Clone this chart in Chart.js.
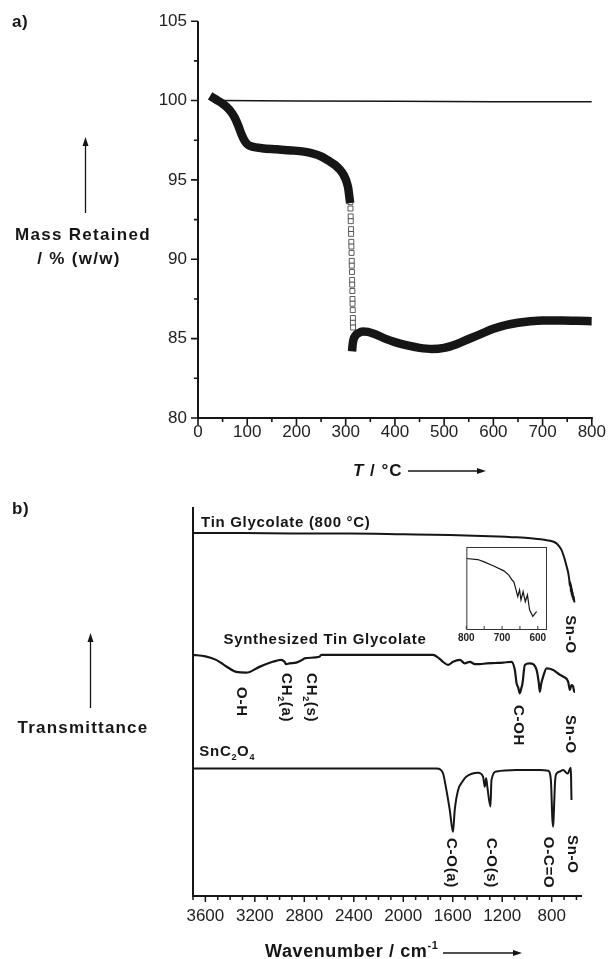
<!DOCTYPE html>
<html>
<head>
<meta charset="utf-8">
<script src="https://cdn.jsdelivr.net/npm/chart.js@4.4.1/dist/chart.umd.min.js"></script>
<style>
  html, body { margin: 0; padding: 0; background: #fff; }
  body { width: 610px; height: 959px; position: relative; overflow: hidden; }
  canvas { position: absolute; }
  #tga { left: 0; top: 0; }
  #ftir { left: 0; top: 490px; }
  #inset { left: 455px; top: 540px; }
</style>
</head>
<body>
<canvas id="tga" width="610" height="490"></canvas>
<canvas id="ftir" width="610" height="469"></canvas>
<canvas id="inset" width="100" height="110"></canvas>
<script>
// ---------- panel a: TGA ----------
const tempTicks = [0, 100, 200, 300, 400, 500, 600, 700, 800];
const tempMinorTicks = [50, 150, 250, 350, 450, 550, 650, 750];
const massTicks = [80, 85, 90, 95, 100, 105];
const massMinorTicks = [82.5, 87.5, 92.5, 97.5, 102.5];

// reference (empty pan) line
const refTemp = [45, 200, 400, 600, 800];
const refMass = [100.0, 99.98, 99.95, 99.93, 99.92];

// tin glycolate, before the sharp drop
const stage1Temp = [32, 40, 48, 58, 67, 75, 82, 88, 95, 102, 110, 130, 160, 190, 215, 235, 252, 266, 278, 288, 296, 301, 305, 308];
const stage1Mass = [100.15, 100.0, 99.85, 99.6, 99.3, 98.9, 98.4, 97.9, 97.45, 97.2, 97.1, 97.0, 96.93, 96.86, 96.78, 96.65, 96.45, 96.2, 95.95, 95.65, 95.3, 94.95, 94.5, 93.8];

// sparse points during the drop (open squares)
const dropTemp = [309.5, 309.7, 310.1, 310.3, 310.8, 311.0, 311.4, 311.6, 311.9, 312.3, 312.4, 312.8, 313.1, 313.2, 313.6, 313.9, 314.0, 314.4, 314.7, 314.6, 315.0];
const dropMass = [93.6, 93.2, 92.7, 92.4, 91.9, 91.6, 91.1, 90.8, 90.4, 89.9, 89.6, 89.2, 88.7, 88.4, 88.0, 87.5, 87.2, 86.8, 86.3, 86.0, 85.7];

// after the drop
const stage2Temp = [313, 314, 316, 320, 326, 335, 345, 360, 380, 400, 425, 450, 475, 500, 525, 550, 575, 600, 625, 650, 675, 700, 740, 770, 800];
const stage2Mass = [84.2, 84.6, 84.95, 85.2, 85.35, 85.45, 85.43, 85.28, 85.0, 84.78, 84.57, 84.42, 84.35, 84.42, 84.65, 84.98, 85.3, 85.62, 85.85, 86.0, 86.1, 86.15, 86.15, 86.12, 86.1];

// ---------- panel b: FTIR ----------
const waveTicks = [3600, 3200, 2800, 2400, 2000, 1600, 1200, 800];
const waveMinorTicks = [3700, 3500, 3400, 3300, 3100, 3000, 2900, 2700, 2600, 2500, 2300, 2200, 2100, 1900, 1800, 1700, 1500, 1400, 1300, 1100, 1000, 900, 700, 600];

// Tin Glycolate (800 °C)
const calcWave = [3700, 3300, 2900, 2434, 2000, 1624, 1300, 1082, 950, 860, 815, 780, 760, 740, 720, 705, 693, 680, 666, 658, 653, 648, 645, 642, 639, 636, 633, 630, 626, 622, 618, 614];
const calcT = [93.3, 93.3, 93.2, 93.2, 93.0, 92.8, 92.5, 92.2, 91.9, 91.6, 91.3, 91.0, 90.6, 89.9, 88.9, 87.6, 86.4, 84.8, 83.0, 81.3, 79.8, 80.6, 78.2, 79.9, 77.4, 79.0, 76.8, 78.0, 76.2, 77.0, 75.8, 75.5];

// Synthesized Tin Glycolate
const synthWave = [3700, 3600, 3513, 3430, 3351, 3270, 3163, 3055, 2987, 2960, 2947, 2920, 2866, 2812, 2798, 2677, 2663, 2200, 1760, 1700, 1679, 1638, 1598, 1543, 1503, 1462, 1420, 1381, 1327, 1250, 1193, 1125, 1098, 1084, 1070, 1058, 1045, 1036, 1017, 980, 950, 922, 905, 896, 885, 869, 841, 788, 740, 707, 667, 653, 640, 626, 618, 612];
const synthT = [62.0, 61.6, 60.7, 59.0, 57.6, 57.4, 58.9, 60.2, 60.7, 60.2, 59.6, 59.8, 60.0, 60.8, 61.1, 61.5, 62.0, 62.0, 62.0, 60.8, 60.2, 59.4, 60.2, 60.7, 59.8, 60.2, 59.6, 59.6, 59.8, 59.9, 60.0, 60.2, 58.1, 54.7, 53.5, 52.1, 53.5, 54.7, 59.4, 59.8, 59.6, 58.1, 55.0, 52.5, 54.5, 56.4, 58.5, 58.1, 57.0, 56.4, 55.1, 53.0, 54.2, 53.8, 52.5, 52.5];

// SnC2O4
const oxalateWave = [3700, 3000, 2400, 2000, 1732, 1700, 1678, 1651, 1624, 1598, 1584, 1557, 1520, 1489, 1395, 1355, 1341, 1330, 1322, 1295, 1287, 1246, 1084, 900, 828, 815, 805, 795, 788, 782, 772, 760, 734, 707, 675, 667, 655, 645, 642, 640];
const oxalateT = [32.8, 32.8, 32.8, 32.8, 32.8, 32.5, 31.5, 27.2, 22.1, 16.5, 22.1, 27.2, 29.5, 30.7, 31.7, 30.7, 28.1, 30.3, 28.5, 23.0, 29.8, 32.0, 32.4, 32.4, 32.2, 31.6, 29.0, 20.0, 17.8, 22.0, 29.8, 31.5, 32.0, 32.4, 31.5, 31.6, 32.5, 33.0, 28.0, 24.7];

// inset: Tin Glycolate (800 °C), 800-600 cm-1
const insetTicks = [800, 700, 600];
const insetMinorTicks = [750, 650];
const insetWave = [800, 768, 750, 722, 695, 681, 672, 667, 662, 656, 651, 647, 641, 635, 629, 623, 614, 607, 603];
const insetT = [86, 84.7, 81.8, 76.6, 70.9, 65.7, 59.7, 57.6, 49.6, 39.5, 47.6, 35.5, 45.5, 33.4, 41.5, 23.4, 15.3, 19.4, 21.3];

const FONT = '"Liberation Sans", Arial, Helvetica, sans-serif';
const INK = '#161616';

Chart.defaults.font.family = FONT;
Chart.defaults.color = '#222';

function pairs(xs, ys) {
  return xs.map((v, i) => ({ x: v, y: ys[i] }));
}

function plainLabel(v) {
  return String(v);
}

function arrow(ctx, x1, y1, x2, y2) {
  const a = Math.atan2(y2 - y1, x2 - x1), h = 9, w = 3;
  ctx.lineWidth = 1.3;
  ctx.beginPath();
  ctx.moveTo(x1, y1);
  ctx.lineTo(x2 - 5 * Math.cos(a), y2 - 5 * Math.sin(a));
  ctx.stroke();
  ctx.beginPath();
  ctx.moveTo(x2, y2);
  ctx.lineTo(x2 - h * Math.cos(a) + w * Math.sin(a), y2 - h * Math.sin(a) - w * Math.cos(a));
  ctx.lineTo(x2 - h * Math.cos(a) - w * Math.sin(a), y2 - h * Math.sin(a) + w * Math.cos(a));
  ctx.closePath();
  ctx.fill();
}

// parts: [text, 'sub'|'sup'|'', italic]
function rich(ctx, parts, x, y, opt) {
  const size = opt.size;
  const weight = opt.weight || 'bold';
  ctx.save();
  ctx.translate(x, y);
  if (opt.rotate) ctx.rotate(Math.PI / 2);
  ctx.textBaseline = 'alphabetic';
  ctx.textAlign = 'left';
  ctx.letterSpacing = (opt.spacing || 0) + 'px';
  const fontFor = p => (p[2] ? 'italic ' : '') + weight + ' ' + (p[1] ? Math.round(size * 0.62) : size) + 'px ' + FONT;
  let total = 0;
  parts.forEach(p => { ctx.font = fontFor(p); total += ctx.measureText(p[0]).width; });
  let cx = opt.align === 'center' ? -total / 2 : 0;
  const dy = opt.rotate ? size * 0.36 : 0;
  parts.forEach(p => {
    ctx.font = fontFor(p);
    const shift = p[1] === 'sub' ? size * 0.28 : (p[1] === 'sup' ? -size * 0.42 : 0);
    ctx.fillText(p[0], cx, dy + shift);
    cx += ctx.measureText(p[0]).width;
  });
  ctx.restore();
}

function tickMarks(ctx, scale, values, axis, pos, len) {
  ctx.beginPath();
  values.forEach(v => {
    const p = scale.getPixelForValue(v);
    if (axis === 'x') { ctx.moveTo(p, pos); ctx.lineTo(p, pos + len); }
    else { ctx.moveTo(pos, p); ctx.lineTo(pos - len, p); }
  });
  ctx.stroke();
}

const hiddenGrid = { display: false, drawTicks: false };

// ---------- chart a ----------
const tgaDecor = {
  id: 'tgaDecor',
  afterDraw(chart) {
    const { ctx, chartArea: a, scales: { x, y } } = chart;
    ctx.save();
    ctx.strokeStyle = INK;
    ctx.fillStyle = INK;
    ctx.lineWidth = 2;
    ctx.beginPath();
    ctx.moveTo(a.left, a.top);
    ctx.lineTo(a.left, a.bottom);
    ctx.lineTo(a.right + 1, a.bottom);
    ctx.stroke();
    ctx.lineWidth = 1.6;
    tickMarks(ctx, y, massTicks, 'y', a.left, 7);
    tickMarks(ctx, y, massMinorTicks, 'y', a.left, 4);
    tickMarks(ctx, x, tempTicks, 'x', a.bottom, 7);
    tickMarks(ctx, x, tempMinorTicks, 'x', a.bottom, 4);

    rich(ctx, [['a)']], 12, 27, { size: 17, spacing: 0.5 });
    arrow(ctx, 85.5, 213, 85.5, 137);
    rich(ctx, [['Mass Retained']], 83, 240, { size: 17, spacing: 1.3, align: 'center' });
    rich(ctx, [['/ % (w/w)']], 79, 264, { size: 17, spacing: 1.3, align: 'center' });
    rich(ctx, [['T', '', true], [' / °C']], 353, 476, { size: 17, spacing: 1 });
    arrow(ctx, 408, 471, 486, 471);
    ctx.restore();
  }
};

new Chart(document.getElementById('tga'), {
  type: 'line',
  data: {
    datasets: [
      { data: pairs(refTemp, refMass), borderColor: INK, borderWidth: 1.5, pointRadius: 0 },
      { data: pairs(stage1Temp, stage1Mass), borderColor: INK, borderWidth: 8.5, pointRadius: 0, cubicInterpolationMode: 'monotone', borderCapStyle: 'square' },
      { data: pairs(dropTemp, dropMass), showLine: false, pointStyle: 'rect', pointRadius: 3.5, pointBorderWidth: 0.8, pointBorderColor: '#333', pointBackgroundColor: '#fff' },
      { data: pairs(stage2Temp, stage2Mass), borderColor: INK, borderWidth: 8.5, pointRadius: 0, cubicInterpolationMode: 'monotone', borderCapStyle: 'butt' }
    ]
  },
  options: {
    responsive: false,
    animation: false,
    devicePixelRatio: 1,
    layout: { padding: { top: 21, right: 17, left: 0, bottom: 0 } },
    plugins: { legend: { display: false }, tooltip: { enabled: false } },
    scales: {
      x: {
        type: 'linear', min: 0, max: 800,
        afterFit(s) { s.height = 72; },
        afterBuildTicks(s) { s.ticks = tempTicks.map(v => ({ value: v })); },
        grid: hiddenGrid, border: { display: false },
        ticks: { padding: 4, font: { size: 17 }, color: '#222', maxRotation: 0, autoSkip: false, callback: plainLabel }
      },
      y: {
        type: 'linear', min: 80, max: 105,
        afterFit(s) { s.width = 198; },
        afterBuildTicks(s) { s.ticks = massTicks.map(v => ({ value: v })); },
        grid: hiddenGrid, border: { display: false },
        ticks: { padding: 11, font: { size: 17 }, color: '#222', autoSkip: false, callback: plainLabel }
      }
    }
  },
  plugins: [tgaDecor]
});

// ---------- chart b ----------
const traceLabels = [
  { parts: [['Tin Glycolate (800 °C)']], w: 3635, v: 94.8 },
  { parts: [['Synthesized Tin Glycolate']], w: 3454, v: 64.7 },
  { parts: [['SnC'], ['2', 'sub'], ['O'], ['4', 'sub']], w: 3649, v: 36.0 }
];
const peakLabels = [
  { parts: [['O-H']], w: 3300, v: 53.7 },
  { parts: [['CH'], ['2', 'sub'], ['(a)']], w: 2936, v: 57.3 },
  { parts: [['CH'], ['2', 'sub'], ['(s)']], w: 2734, v: 57.3 },
  { parts: [['C-OH']], w: 1058, v: 49.1 },
  { parts: [['Sn-O']], w: 639, v: 72.2 },
  { parts: [['Sn-O']], w: 639, v: 46.5 },
  { parts: [['C-O(a)']], w: 1600, v: 14.9 },
  { parts: [['C-O(s)']], w: 1276, v: 14.9 },
  { parts: [['O-C=O']], w: 815, v: 15.2 },
  { parts: [['Sn-O']], w: 628, v: 15.7 }
];

const ftirDecor = {
  id: 'ftirDecor',
  afterDraw(chart) {
    const { ctx, chartArea: a, scales: { x, y } } = chart;
    ctx.save();
    ctx.strokeStyle = INK;
    ctx.fillStyle = INK;
    ctx.lineWidth = 2;
    ctx.beginPath();
    ctx.moveTo(a.left, a.top);
    ctx.lineTo(a.left, a.bottom);
    ctx.lineTo(a.right, a.bottom);
    ctx.stroke();
    ctx.lineWidth = 1.5;
    tickMarks(ctx, x, waveTicks, 'x', a.bottom, 6);
    tickMarks(ctx, x, waveMinorTicks, 'x', a.bottom, 4);

    traceLabels.forEach(l => rich(ctx, l.parts, x.getPixelForValue(l.w), y.getPixelForValue(l.v), { size: 15, spacing: 0.7 }));
    peakLabels.forEach(l => rich(ctx, l.parts, x.getPixelForValue(l.w), y.getPixelForValue(l.v), { size: 15, spacing: 0.7, rotate: true }));

    rich(ctx, [['b)']], 12, 24, { size: 17, spacing: 0.5 });
    arrow(ctx, 90.5, 218, 90.5, 143);
    rich(ctx, [['Transmittance']], 83, 243, { size: 17, spacing: 1.2, align: 'center' });
    rich(ctx, [['Wavenumber / cm'], ['-1', 'sup']], 265, 467, { size: 18, spacing: 0.6 });
    arrow(ctx, 443, 463, 522, 463);
    ctx.restore();
  }
};

new Chart(document.getElementById('ftir'), {
  type: 'line',
  data: {
    datasets: [
      { data: pairs(calcWave, calcT), borderColor: INK, borderWidth: 2, pointRadius: 0, cubicInterpolationMode: 'monotone' },
      { data: pairs(synthWave, synthT), borderColor: INK, borderWidth: 2.2, pointRadius: 0, cubicInterpolationMode: 'monotone' },
      { data: pairs(oxalateWave, oxalateT), borderColor: INK, borderWidth: 2, pointRadius: 0, cubicInterpolationMode: 'monotone' }
    ]
  },
  options: {
    responsive: false,
    animation: false,
    devicePixelRatio: 1,
    layout: { padding: { top: 17, right: 28, left: 0, bottom: 0 } },
    plugins: { legend: { display: false }, tooltip: { enabled: false } },
    scales: {
      x: {
        type: 'linear', min: 555, max: 3700, reverse: true,
        afterFit(s) { s.height = 63; },
        afterBuildTicks(s) { s.ticks = waveTicks.map(v => ({ value: v })); },
        grid: hiddenGrid, border: { display: false },
        ticks: { padding: 10, font: { size: 17 }, color: '#222', maxRotation: 0, autoSkip: false, callback: plainLabel }
      },
      y: {
        type: 'linear', min: 0, max: 100,
        afterFit(s) { s.width = 193; },
        grid: hiddenGrid, border: { display: false },
        ticks: { display: false }
      }
    }
  },
  plugins: [ftirDecor]
});

// ---------- inset ----------
const insetFrame = {
  id: 'insetFrame',
  afterDraw(chart) {
    const { ctx, chartArea: a, scales: { x } } = chart;
    ctx.save();
    ctx.strokeStyle = '#333';
    ctx.lineWidth = 1;
    ctx.strokeRect(a.left + 0.5, a.top + 0.5, a.right - a.left, a.bottom - a.top);
    tickMarks(ctx, x, insetTicks.concat(insetMinorTicks), 'x', a.bottom, -3);
    ctx.restore();
  }
};

new Chart(document.getElementById('inset'), {
  type: 'line',
  data: {
    datasets: [
      { data: pairs(insetWave, insetT), borderColor: INK, borderWidth: 1.2, pointRadius: 0, tension: 0 }
    ]
  },
  options: {
    responsive: false,
    animation: false,
    devicePixelRatio: 1,
    layout: { padding: { top: 7, right: 9, left: 0, bottom: 0 } },
    plugins: { legend: { display: false }, tooltip: { enabled: false } },
    scales: {
      x: {
        type: 'linear', min: 577, max: 800, reverse: true,
        afterFit(s) { s.height = 21; },
        afterBuildTicks(s) { s.ticks = insetTicks.map(v => ({ value: v })); },
        grid: hiddenGrid, border: { display: false },
        ticks: { padding: 3, font: { size: 10, weight: 'bold' }, color: '#222', maxRotation: 0, autoSkip: false, callback: plainLabel }
      },
      y: {
        type: 'linear', min: 0, max: 100,
        afterFit(s) { s.width = 10; },
        grid: hiddenGrid, border: { display: false },
        ticks: { display: false }
      }
    }
  },
  plugins: [insetFrame]
});
</script>
</body>
</html>
